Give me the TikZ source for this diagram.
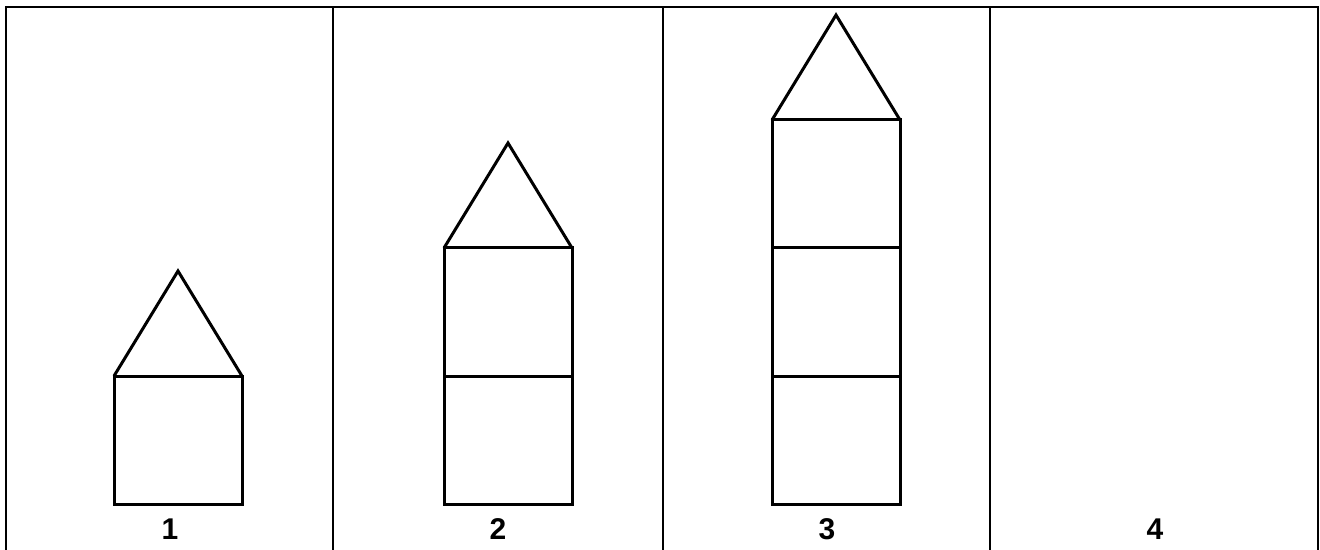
\documentclass[tikz,border=0pt]{standalone}
\usepackage{fontspec}
\setmainfont{Liberation Sans}
\usepackage{tikz}
\usetikzlibrary{positioning}

\begin{document}
\begin{tikzpicture}[x=0.5pt,y=-0.5pt,
  frame/.style={line width=1.4pt},
  wall/.style={line width=1.5pt,line join=miter},
  numlabel/.style={font=\fontsize{15}{17}\selectfont\bfseries,inner sep=0pt}]
\useasboundingbox (0,0) rectangle (1320,550);
% table
\draw[frame] (6,550) -- (6,7) -- (1318,7) -- (1318,550);
\draw[frame] (333,7) -- (333,550);
\draw[frame] (663,7) -- (663,550);
\draw[frame] (990,7) -- (990,550);
% house 1
\begin{scope}
  \draw[wall] (114,376) rectangle (242,504);
  \draw[wall] (114,376) -- (178,271) -- (242,376);
\end{scope}
% house 2
\begin{scope}[xshift=165pt]
  \draw[wall] (114,376) rectangle (242,504);
  \draw[wall] (114,248) rectangle (242,376);
  \draw[wall] (114,248) -- (178,143) -- (242,248);
\end{scope}
% house 3
\begin{scope}[xshift=329pt]
  \draw[wall] (114,376) rectangle (242,504);
  \draw[wall] (114,248) rectangle (242,376);
  \draw[wall] (114,120) rectangle (242,248);
  \draw[wall] (114,120) -- (178,15) -- (242,120);
\end{scope}
% numbers
\node[numlabel] (n1) at (170,529) {1};
\node[numlabel] (n2) at (498,529) {2};
\node[numlabel] (n3) at (827,529) {3};
\node[numlabel] (n4) at (1155,529) {4};
\end{tikzpicture}
\end{document}
